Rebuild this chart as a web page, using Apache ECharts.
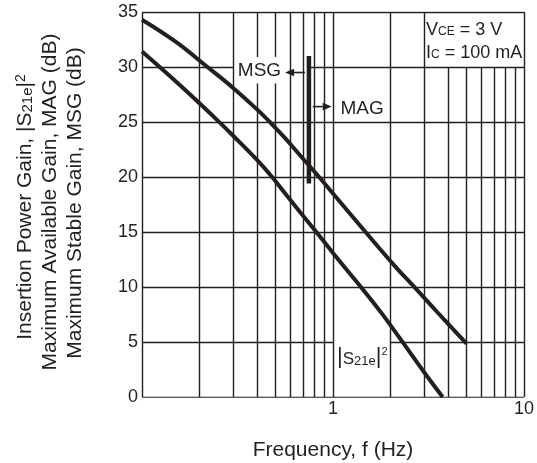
<!DOCTYPE html>
<html><head><meta charset="utf-8">
<script src="https://cdn.jsdelivr.net/npm/echarts@6/dist/echarts.min.js"></script>
<style>html,body{margin:0;padding:0;background:#fff}#c{width:537px;height:463px}</style>
</head><body><div id="c"></div>
<script>
const FONT = "'Liberation Sans', Arial, Helvetica, sans-serif";
const INK = '#231f20';

// Upper curve: MSG / MAG (dB) vs frequency
const freqUpper = [0.1, 0.15, 0.22, 0.3, 0.4, 0.47, 0.56, 0.67, 0.85, 1.0, 1.48, 2.16, 2.7, 3.5, 5.0];
const gainUpper = [34.3, 32.3, 30.0, 28.1, 26.15, 24.95, 23.55, 22.0, 19.95, 18.5, 15.0, 11.7, 9.9, 7.75, 4.85];
// Lower curve: |S21e|^2 (dB) vs frequency
const freqLower = [0.1, 0.15, 0.2, 0.25, 0.3, 0.4, 0.48, 0.55, 0.67, 0.8, 1.0, 1.2, 1.4, 1.8, 2.3, 3.0, 3.75];
const gainLower = [31.4, 28.7, 26.7, 25.1, 23.75, 21.55, 20.0, 18.7, 16.85, 15.2, 13.1, 11.4, 10.0, 7.6, 5.05, 2.25, 0.0];

// MSG/MAG boundary
const boundaryFreq = 0.748;
const boundaryGain = [19.4, 31.0];

// Axes / ticks
const yTicks = [0, 5, 10, 15, 20, 25, 30, 35];
const xTickValues = [1, 10];
const xTickLabels = ['1', '10'];
const xMajor = [0.1, 1, 10];
const xMinorFull = [0.2, 0.3, 0.6, 0.7, 0.8, 0.9, 2, 3];
const xMinorMSGGap = [0.4, 0.5];          // interrupted behind "MSG"
const xMinorBelowBox = [4, 5, 6, 7, 8, 9]; // stop at the condition box

// build grid segments
const segs = [];
xMajor.concat(xMinorFull).forEach(f => segs.push([[f, 0], [f, 35]]));
xMinorMSGGap.forEach(f => { segs.push([[f, 0], [f, 28.5]]); segs.push([[f, 30.9], [f, 35]]); });
xMinorBelowBox.forEach(f => segs.push([[f, 0], [f, 30]]));
yTicks.forEach(g => {
  if (g === 5) { segs.push([[0.1, g], [1.0, g]]); segs.push([[2.0, g], [10, g]]); }
  else if (g === 30) { segs.push([[0.1, g], [0.3, g]]); segs.push([[boundaryFreq, g], [10, g]]); }
  else segs.push([[0.1, g], [10, g]]);
});

const zip = (a, b) => a.map((v, i) => [v, b[i]]);

const option = {
  animation: false,
  backgroundColor: '#fff',
  textStyle: { fontFamily: FONT },
  grid: { left: 142, right: 13, top: 12, bottom: 66, containLabel: false, outerBoundsMode: 'none' },
  xAxis: {
    type: 'log', logBase: 10, min: 0.1, max: 10,
    axisLine: { show: false }, axisTick: { show: false }, splitLine: { show: false },
    minorTick: { show: false }, minorSplitLine: { show: false },
    axisLabel: {
      fontSize: 18, color: INK, fontFamily: FONT, margin: 3, showMaxLabel: true,
      formatter: v => { const i = xTickValues.findIndex(t => Math.abs(t - v) < 1e-6 * t); return i >= 0 ? xTickLabels[i] : ''; }
    },
    name: 'Frequency, f (Hz)', nameLocation: 'middle', nameGap: 43,
    nameTextStyle: { fontSize: 21, color: INK, fontFamily: FONT }
  },
  yAxis: {
    type: 'value', min: 0, max: 35, interval: 5,
    axisLine: { show: false }, axisTick: { show: false }, splitLine: { show: false },
    axisLabel: { fontSize: 18, color: INK, fontFamily: FONT, margin: 4 }
  },
  series: [
    {
      type: 'lines', coordinateSystem: 'cartesian2d', silent: true, z: 1,
      data: segs.map(s => ({ coords: s })),
      lineStyle: { color: INK, width: 1.4, opacity: 1, curveness: 0 }
    },
    {
      type: 'line', data: zip(freqUpper, gainUpper), smooth: 0.4, symbol: 'none', z: 5,
      lineStyle: { color: INK, width: 4 }
    },
    {
      type: 'line', data: zip(freqLower, gainLower), smooth: 0.4, symbol: 'none', z: 5,
      lineStyle: { color: INK, width: 4 }
    },
    {
      type: 'line', data: boundaryGain.map(g => [boundaryFreq, g]), symbol: 'none', z: 6,
      lineStyle: { color: INK, width: 4.5, cap: 'butt' }
    }
  ]
};

const chart = echarts.init(document.getElementById('c'), null, { renderer: 'canvas' });
chart.setOption(option);

const P = (x, y) => chart.convertToPixel({ gridIndex: 0 }, [x, y]);
const g = [];

// arrows
function arrow(fromF, toF, gain) {
  const a = P(fromF, gain), b = P(toF, gain);
  const dir = Math.sign(b[0] - a[0]);
  const hl = 9, hw = 3.8;
  g.push({ type: 'line', z: 20, shape: { x1: a[0], y1: a[1], x2: b[0] - dir * hl, y2: b[1] }, style: { stroke: INK, lineWidth: 1.6 } });
  g.push({ type: 'polygon', z: 20, shape: { points: [[b[0], b[1]], [b[0] - dir * hl, b[1] - hw], [b[0] - dir * hl, b[1] + hw]] }, style: { fill: INK } });
}
arrow(0.713, 0.561, 29.5);
arrow(0.783, 0.984, 26.4);

// labels
const msg = P(0.412, 29.7);
g.push({ type: 'text', z: 20, x: msg[0], y: msg[1], style: { text: 'MSG', font: `19px ${FONT}`, fill: INK, align: 'center', verticalAlign: 'middle' } });
const mag = P(1.42, 26.2);
g.push({ type: 'text', z: 20, x: mag[0], y: mag[1], style: { text: 'MAG', font: `19px ${FONT}`, fill: INK, align: 'center', verticalAlign: 'middle' } });

const s21 = P(1.05, 3.6);
g.push({ type: 'text', z: 20, x: s21[0], y: s21[1], style: {
  text: '{bar||}{s|S}{sub|21e}{bar||}{sup|2}', align: 'left', verticalAlign: 'middle',
  rich: {
    bar: { fontSize: 22, fontFamily: FONT, fill: INK, color: INK, verticalAlign: 'bottom' },
    s: { fontSize: 17, fontFamily: FONT, fill: INK, color: INK, verticalAlign: 'bottom', padding: [0, 0, 1, 0] },
    sub: { fontSize: 13, fontFamily: FONT, fill: INK, color: INK, verticalAlign: 'bottom' },
    sup: { fontSize: 11, fontFamily: FONT, fill: INK, color: INK, verticalAlign: 'top' }
  }
} });

const c1 = P(3.07, 33.4), c2 = P(3.07, 31.3);
const condRich = {
  n: { fontSize: 18, fontFamily: FONT, fill: INK, color: INK, verticalAlign: 'bottom' },
  k: { fontSize: 12, fontFamily: FONT, fill: INK, color: INK, verticalAlign: 'bottom', padding: [0, 0, 1, 0] }
};
g.push({ type: 'text', z: 20, x: c1[0], y: c1[1], style: { text: '{n|V}{k|CE}{n| = 3 V}', align: 'left', verticalAlign: 'middle', rich: condRich } });
g.push({ type: 'text', z: 20, x: c2[0], y: c2[1], style: { text: '{n|I}{k|C}{n| = 100 mA}', align: 'left', verticalAlign: 'middle', rich: condRich } });

// y axis title (three lines, rotated)
const yRich = {
  n: { fontSize: 21, fontFamily: FONT, fill: INK, color: INK, verticalAlign: 'bottom' },
  sub: { fontSize: 15, fontFamily: FONT, fill: INK, color: INK, verticalAlign: 'bottom' },
  sup: { fontSize: 14, fontFamily: FONT, fill: INK, color: INK, verticalAlign: 'top' }
};
const yTitles = [
  { x: 25, y: 207, text: '{n|Insertion Power Gain, |S}{sub|21e}{n||}{sup|2}' },
  { x: 50, y: 202, text: '{n|Maximum Available Gain, MAG (dB)}' },
  { x: 75, y: 203, text: '{n|Maximum Stable Gain, MSG (dB)}' }
];
yTitles.forEach(t => g.push({ type: 'text', z: 20, x: t.x, y: t.y, rotation: Math.PI / 2,
  style: { text: t.text, align: 'center', verticalAlign: 'middle', rich: yRich } }));

chart.setOption({ graphic: { elements: g } });
</script>
</body></html>
